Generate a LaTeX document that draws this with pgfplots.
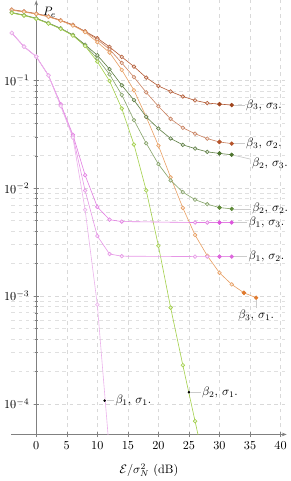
\documentclass[border=0pt]{standalone}
\usepackage{pgfplots}
\pgfplotsset{compat=1.18}
\usetikzlibrary{arrows.meta}
\definecolor{bA}{HTML}{B35A34}
\definecolor{bB}{HTML}{C98362}
\definecolor{bC}{HTML}{E89F63}
\definecolor{gA}{HTML}{5F7F45}
\definecolor{gB}{HTML}{86A36A}
\definecolor{gC}{HTML}{A2CF4A}
\definecolor{pA}{HTML}{E27FE2}
\definecolor{pB}{HTML}{E696E6}
\definecolor{pC}{HTML}{EBB2EB}
\definecolor{eA}{HTML}{A0461E}
\definecolor{eB}{HTML}{B5532A}
\definecolor{eC}{HTML}{E07B30}
\definecolor{eD}{HTML}{4F7530}
\definecolor{eE}{HTML}{5F8A3A}
\definecolor{eF}{HTML}{DD55DD}
\definecolor{eG}{HTML}{DD66DD}
\begin{document}
\begin{tikzpicture}
\begin{axis}[
  scale only axis, width=226pt, height=356pt,
  ymode=log, xmin=-4.1, xmax=41, ymin=5.2e-5, ymax=0.55,
  axis x line=bottom, axis y line=center,
  axis line style={black!50, line width=0.8pt, -{Stealth[length=4pt,width=3pt]}},
  tick style={black!50},
  xtick={0,5,...,40}, ytick={1e-4,1e-3,1e-2,1e-1},
  grid=both,
  major grid style={dashed, black!15},
  minor grid style={dashed, black!12},
  xlabel={$\mathcal{E}/\sigma_N^2$ (dB)},
  xlabel style={yshift=-5pt},
  ylabel={$P_e$},
  ylabel style={at={(axis description cs:0.091,0.995)}, anchor=north west, xshift=2pt},
  every axis plot/.append style={line width=0.5pt, mark=*, mark size=1.5pt},
]
% beta3 sigma3
\addplot[bA, mark options={draw=bA, fill=bA!20}] table {
-4 0.453
-2 0.435
0 0.416
2 0.392
4 0.361
6 0.327
8 0.285
10 0.246
12 0.204
14 0.165
16 0.134
18 0.106
20 0.0887
22 0.0788
24 0.0708
26 0.0651
28 0.0615
30 0.0602
};
% beta3 sigma2
\addplot[bB, mark options={draw=bB, fill=bB!20}] table {
-4 0.450
-2 0.432
0 0.414
2 0.390
4 0.359
6 0.325
8 0.283
10 0.239
12 0.194
14 0.145
16 0.107
18 0.0773
20 0.0574
22 0.0439
24 0.0363
26 0.0320
28 0.0288
30 0.0268
};
% beta3 sigma1
\addplot[bC, mark options={draw=bC, fill=bC!20}] table {
-4 0.447
-2 0.430
0 0.412
2 0.388
4 0.357
6 0.322
8 0.280
10 0.226
12 0.181
14 0.125
16 0.0809
18 0.0458
20 0.0248
22 0.0126
24 0.00656
26 0.00368
28 0.00236
30 0.00164
32 0.00128
34 0.00107
};
% beta2 sigma3
\addplot[gA, mark options={draw=gA, fill=gA!20}] table {
-4 0.425
-2 0.403
0 0.376
2 0.340
4 0.304
6 0.264
8 0.214
10 0.171
12 0.127
14 0.090
16 0.0656
18 0.0458
20 0.0357
22 0.0289
24 0.0252
26 0.0233
28 0.0217
30 0.0210
};
% beta2 sigma2
\addplot[gB, mark options={draw=gB, fill=gB!20}] table {
-4 0.423
-2 0.401
0 0.374
2 0.338
4 0.302
6 0.262
8 0.211
10 0.159
12 0.1135
14 0.0733
16 0.0427
18 0.0261
20 0.0167
22 0.0118
24 0.00919
26 0.00782
28 0.00710
30 0.00661
};
% beta2 sigma1
\addplot[gC, mark options={draw=gC, fill=gC!20}] table {
-4 0.421
-2 0.399
0 0.372
2 0.336
4 0.300
6 0.260
8 0.208
10 0.149
12 0.0986
14 0.0548
16 0.0254
18 0.00953
20 0.00292
22 0.00078
24 0.000228
26 0.000069
28 0.000021
};
% beta1 sigma3
\addplot[pA, mark options={draw=pA, fill=pA!20}] table {
-4 0.275
-2 0.205
0 0.166
2 0.111
4 0.0602
6 0.0313
8 0.0132
10 0.0067
12 0.0051
14 0.0049
26 0.0048
28 0.0048
30 0.0048
};
% beta1 sigma2
\addplot[pB, mark options={draw=pB, fill=pB!20}] table {
-4 0.275
-2 0.205
0 0.166
2 0.111
4 0.0590
6 0.0303
8 0.0095
10 0.0036
12 0.00245
14 0.00234
26 0.00232
28 0.00232
30 0.00232
};
% beta1 sigma1
\addplot[pC, mark options={draw=pC, fill=pC!20}] table {
-4 0.275
-2 0.205
0 0.166
2 0.111
4 0.0578
6 0.0294
8 0.0063
10 0.00083
12 0.000035
};
% end points
\addplot[bA, mark=*, mark options={fill=eA, draw=eA}] coordinates {(30,0.0602) (32,0.0590)};
\addplot[bB, mark=*, mark options={fill=eB, draw=eB}] coordinates {(30,0.0268) (32,0.0259)};
\addplot[bC, mark=*, mark options={fill=eC, draw=eC}] coordinates {(34,0.00107) (36,0.000964)};
\addplot[gA, mark=*, mark options={fill=eD, draw=eD}] coordinates {(30,0.0210) (32,0.0204)};
\addplot[gB, mark=*, mark options={fill=eE, draw=eE}] coordinates {(30,0.00661) (32,0.00642)};
\addplot[pA, mark=*, mark options={fill=eF, draw=eF}] coordinates {(30,0.0048) (32,0.0048)};
\addplot[pB, mark=*, mark options={fill=eG, draw=eG}] coordinates {(30,0.00232) (32,0.00232)};
\addplot[only marks, mark=*, mark size=0.8pt, black] coordinates {(11.2,0.000107)};
\addplot[only marks, mark=*, mark size=0.8pt, black] coordinates {(25,0.000128)};
% labels
\tikzset{lab/.style={inner sep=0pt, minimum size=3pt}, pe/.style={gray!40, line width=0.6pt}}
\node[lab, pin={[pin edge={pe}, pin distance=9pt, inner sep=1pt]0:{$\beta_3$, $\sigma_3$.}}] at (axis cs:32,0.0590) {};
\node[lab, pin={[pin edge={pe}, pin distance=9pt, inner sep=1pt]0:{$\beta_3$, $\sigma_2$.}}] at (axis cs:32,0.0259) {};
\node[lab, pin={[pin edge={pe}, pin distance=14pt, inner sep=1pt]-6:{$\beta_2$, $\sigma_3$.}}] at (axis cs:32,0.0204) {};
\node[lab, pin={[pin edge={pe}, pin distance=14pt, inner sep=1pt]0:{$\beta_2$, $\sigma_2$.}}] at (axis cs:32,0.00642) {};
\node[lab, pin={[pin edge={pe}, pin distance=11pt, inner sep=1pt]0:{$\beta_1$, $\sigma_3$.}}] at (axis cs:32,0.0048) {};
\node[lab, pin={[pin edge={pe}, pin distance=11pt, inner sep=1pt]0:{$\beta_1$, $\sigma_2$.}}] at (axis cs:32,0.00232) {};
\node[lab, pin={[pin edge={pe}, pin distance=7pt, inner sep=1pt]-90:{$\beta_3$, $\sigma_1$.}}] at (axis cs:36,0.000964) {};
\node[lab, pin={[pin edge={pe}, pin distance=8pt, inner sep=1pt]0:{$\beta_2$, $\sigma_1$.}}] at (axis cs:25,0.000128) {};
\node[lab, pin={[pin edge={pe}, pin distance=6pt, inner sep=1pt]0:{$\beta_1$, $\sigma_1$.}}] at (axis cs:11.2,0.000107) {};
\end{axis}
\end{tikzpicture}
\end{document}
